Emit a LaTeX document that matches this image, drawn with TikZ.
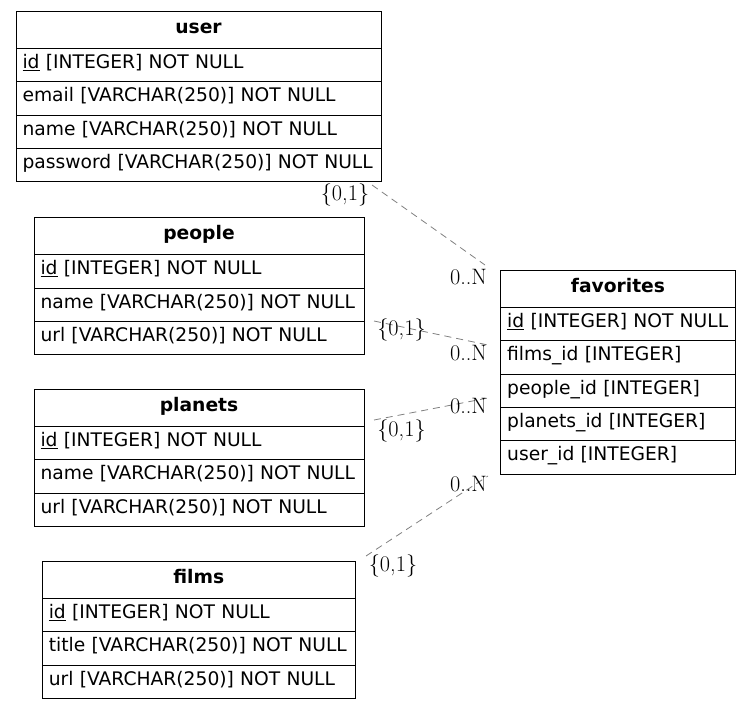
\documentclass[tikz,border=0pt]{standalone}
\usepackage{fontspec}
\usepackage{xcolor}
\usetikzlibrary{positioning}
\newfontfamily\tablefont{DejaVu Sans}
\definecolor{relgray}{gray}{0.5}

\begin{document}
\begin{tikzpicture}[x=1pt,y=-1pt,
  head/.style={draw, line width=0.8pt, outer sep=0pt, anchor=north west, minimum width=#1,
    minimum height=37.5pt, text height=11pt, text depth=4.4pt,
    font=\tablefont\fontsize{18.7pt}{22pt}\selectfont\bfseries},
  row/.style={draw, line width=0.8pt, outer sep=0pt, text width=#1, align=left, inner xsep=6.5pt,
    minimum height=33.3pt, text height=11pt, text depth=4.4pt,
    font=\tablefont\fontsize{18.7pt}{22pt}\selectfont},
  card/.style={inner sep=0pt, font=\fontsize{22.3pt}{25pt}\selectfont},
  rel/.style={draw=relgray, line width=0.8pt, dash pattern=on 7pt off 5pt}]
  \useasboundingbox (0,0) rectangle (751,709);

  % user
  \node[head=365pt] (user) at (16,11) {user};
  \node[row=352pt, below=0pt of user] (user-id) {\underline{id} [INTEGER] NOT NULL};
  \node[row=352pt, below=0pt of user-id] (user-email) {email [VARCHAR(250)] NOT NULL};
  \node[row=352pt, below=0pt of user-email] (user-name) {name [VARCHAR(250)] NOT NULL};
  \node[row=352pt, below=0pt of user-name] (user-password) {password [VARCHAR(250)] NOT NULL};

  % people
  \node[head=330pt] (people) at (34,217.3) {people};
  \node[row=317pt, below=0pt of people] (people-id) {\underline{id} [INTEGER] NOT NULL};
  \node[row=317pt, below=0pt of people-id] (people-name) {name [VARCHAR(250)] NOT NULL};
  \node[row=317pt, below=0pt of people-name] (people-url) {url [VARCHAR(250)] NOT NULL};

  % planets
  \node[head=330pt] (planets) at (34,389) {planets};
  \node[row=317pt, below=0pt of planets] (planets-id) {\underline{id} [INTEGER] NOT NULL};
  \node[row=317pt, below=0pt of planets-id] (planets-name) {name [VARCHAR(250)] NOT NULL};
  \node[row=317pt, below=0pt of planets-name] (planets-url) {url [VARCHAR(250)] NOT NULL};

  % films
  \node[head=313pt] (films) at (42.3,561) {films};
  \node[row=300pt, below=0pt of films] (films-id) {\underline{id} [INTEGER] NOT NULL};
  \node[row=300pt, below=0pt of films-id] (films-title) {title [VARCHAR(250)] NOT NULL};
  \node[row=300pt, below=0pt of films-title] (films-url) {url [VARCHAR(250)] NOT NULL};

  % favorites
  \node[head=234.5pt] (favorites) at (500.7,270) {favorites};
  \node[row=221.5pt, below=0pt of favorites] (favorites-id) {\underline{id} [INTEGER] NOT NULL};
  \node[row=221.5pt, below=0pt of favorites-id] (favorites-films) {films\_id [INTEGER]};
  \node[row=221.5pt, below=0pt of favorites-films] (favorites-people) {people\_id [INTEGER]};
  \node[row=221.5pt, below=0pt of favorites-people] (favorites-planets) {planets\_id [INTEGER]};
  \node[row=221.5pt, below=0pt of favorites-planets] (favorites-user) {user\_id [INTEGER]};

  % Relation ends
  \coordinate (user-port) at (372,185);
  \coordinate (people-port) at (374,321);
  \coordinate (planets-port) at (374,420);
  \coordinate (films-port) at (366,556);
  \coordinate (fav-port-a) at (485,265);
  \coordinate (fav-port-b) at (488,345);
  \coordinate (fav-port-c) at (488,398);
  \coordinate (fav-port-d) at (488,476);

  % Relations
  \draw[rel] (user-port) -- (fav-port-a);
  \draw[rel] (people-port) -- (fav-port-b);
  \draw[rel] (planets-port) -- (fav-port-c);
  \draw[rel] (films-port) -- (fav-port-d);

  % Cardinalities
  \node[card] (user-card) at (345,195) {\{0,1\}};
  \node[card] (fav-card-a) at (468.5,277) {0..N};
  \node[card] (people-card) at (401.5,330) {\{0,1\}};
  \node[card] (fav-card-b) at (468.5,353) {0..N};
  \node[card] (planets-card) at (401.5,431) {\{0,1\}};
  \node[card] (fav-card-c) at (468.5,406) {0..N};
  \node[card] (films-card) at (393,566) {\{0,1\}};
  \node[card] (fav-card-d) at (468.5,484) {0..N};
\end{tikzpicture}
\end{document}
